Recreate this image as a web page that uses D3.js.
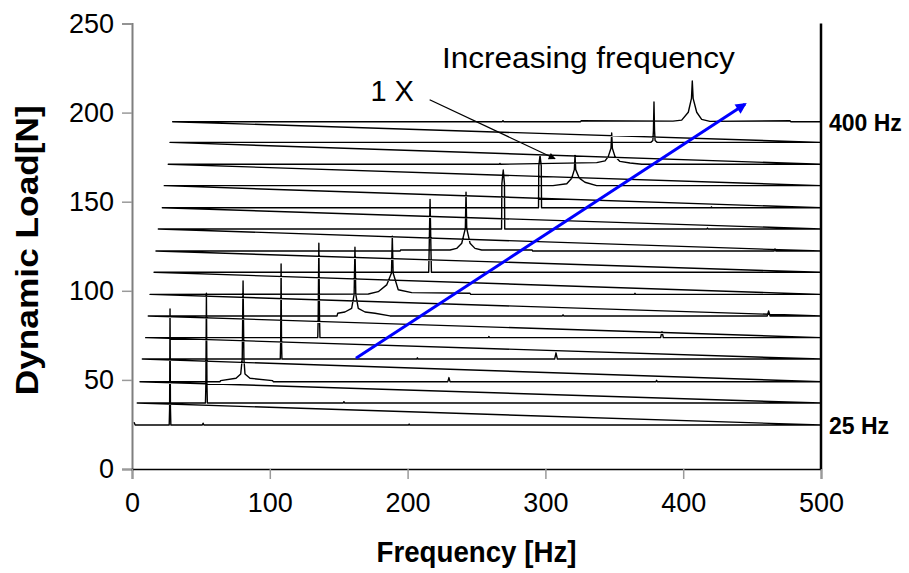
<!DOCTYPE html>
<html>
<head>
<meta charset="utf-8">
<script src="https://cdn.jsdelivr.net/npm/d3@7"></script>
<style>
  body { margin: 0; background: #fff; }
  text { font-family: "Liberation Sans", Arial, sans-serif; }
</style>
</head>
<body>
<svg id="chart" width="909" height="573"></svg>
<script>
// --- data ---
const xTicks = [0, 100, 200, 300, 400, 500];
const yTicks = [0, 50, 100, 150, 200, 250];
const traceNames = ["25 Hz", "", "", "", "", "", "", "", "", "", "", "", "", "", "400 Hz"];
// offset baseline of each spectrum [N]
const baselines = [24.7, 37.0, 49.0, 61.7, 73.7, 85.9, 98.0, 110.4, 122.3, 134.7, 146.6, 159.0, 171.0, 183.3, 194.9];
// vertices of each spectrum [Hz, N], from its first point up to 500 Hz
const spectra = [
  [[1.5,26.2],[2.3,24.7],[27.0,24.7],[27.3,34],[27.6,89.8],[27.9,34],[28.2,24.7],[51.0,24.7],[51.6,25.7],[52.2,24.7],[200.6,24.7],[201.1,25.2],[201.6,24.7]],
  [[3.8,37.0],[53.3,37.0],[53.6,47],[54.0,98.6],[54.4,47],[54.7,37.0],[153.3,37.0],[153.8,37.8],[154.3,37.0]],
  [[5.8,49.0],[63.9,49.0],[64.3,49.6],[75.5,50.9],[78.9,53.3],[80.0,62],[80.6,105.5],[81.2,62],[82.0,53.3],[85.6,50.9],[102.0,49.6],[102.5,49.0],[229.2,49.0],[230.0,51.3],[230.8,49.0],[380.2,49.0],[380.7,49.8],[381.2,49.0]],
  [[7.5,61.7],[107.6,61.7],[107.9,72],[108.2,115.0],[108.5,72],[108.8,61.7],[206.6,61.7],[207.1,62.4],[207.6,61.7],[306.7,61.7],[307.7,65.2],[308.7,61.7]],
  [[9.9,73.7],[134.8,73.7],[135.1,84],[135.6,126.7],[136.1,84],[136.4,73.7],[258.5,73.7],[259.0,74.3],[259.5,73.7],[383.6,73.7],[384.6,77.1],[385.6,73.7]],
  [[11.8,85.9],[148.8,85.9],[149.3,87.4],[154.5,88.1],[159.4,90.2],[161.2,98],[161.8,124.4],[162.4,98],[164.2,90.2],[169.1,88.1],[176.3,87.4],[187.2,85.9],[312.3,85.9],[312.8,86.5],[313.3,85.9],[461.0,85.9],[462.0,88.7],[463.0,85.9]],
  [[13.1,98.0],[171.5,98.2],[178.7,99.5],[184.8,103.3],[188.3,110],[188.9,130.7],[189.5,110],[193.2,100.6],[203.0,99.0],[245.3,98.6],[245.8,98.0],[364.5,98.0],[365.0,98.6],[365.5,98.0]],
  [[16.0,110.4],[215.3,110.4],[215.6,121],[216.3,151.3],[217.0,121],[217.3,110.4]],
  [[17.4,122.3],[194.5,122.3],[195.0,122.9],[230.8,122.9],[235.6,123.8],[239.3,126.7],[241.9,135],[242.4,155.4],[242.9,135],[245.3,126.7],[248.9,123.8],[253.8,122.9],[290.3,122.9],[290.8,122.3],[466.0,122.3],[466.6,123.5],[467.2,122.3]],
  [[19.1,134.7],[268.2,134.7],[268.4,160],[269.4,167.8],[270.3,160],[270.5,134.7],[417.2,134.7],[417.6,135.2],[418.0,134.7]],
  [[22.0,146.6],[295.0,146.6],[295.2,170],[296.1,176.0],[297.0,170],[297.2,146.6],[420.1,146.6],[420.5,147.1],[420.9,146.6]],
  [[23.4,159.0],[305.5,159.0],[315.5,160.1],[319.1,163.2],[321.0,168],[321.5,176.0],[322.0,168],[324.6,163.2],[328.7,160.9],[337.2,159.0]],
  [[26.3,171.0],[266.5,171.0],[267.0,171.5],[267.5,171.0],[337.2,171.9],[343.3,172.9],[345.6,175.3],[347.6,180],[348.1,188.6],[348.6,180],[350.5,175.3],[354.1,172.6],[361.4,171.7],[370.0,171.0]],
  [[27.6,183.3],[376.5,183.3],[378.0,184.3],[378.4,190],[378.8,206.0],[379.2,190],[379.6,184.3],[381.1,183.3]],
  [[29.5,194.9],[268.7,194.9],[269.2,195.5],[269.7,194.9],[325.5,194.9],[326.0,195.4],[392.6,195.2],[398.9,195.8],[403.7,200.2],[406.0,208],[406.6,217.7],[407.2,208],[409.8,200.2],[413.4,196.2],[419.4,195.1],[477.5,195.4],[478.0,194.9]]
];
// annotations [Hz, N]
const blueArrow = [[162.5, 62.1], [444.8, 204.7]];
const pointerArrow = [[216.0, 207.2], [307.0, 174.1]];
const titleNote = { text: "Increasing frequency", at: [224.9, 225.0] };
const orderNote = { text: "1 X", at: [173.0, 206.5] };

// --- layout ---
const margin = { top: 23.5, right: 88, bottom: 104, left: 132 };
const W = 909, H = 573;
const svg = d3.select("#chart");

const x = d3.scaleLinear().domain([0, 500]).range([margin.left, W - margin.right]);
const y = d3.scaleLinear().domain([0, 250]).range([H - margin.bottom, margin.top]);

const defs = svg.append("defs");
defs.append("marker").attr("id", "headBlue")
  .attr("viewBox", "0 0 10 10").attr("refX", 8).attr("refY", 5)
  .attr("markerWidth", 14).attr("markerHeight", 11).attr("markerUnits", "userSpaceOnUse")
  .attr("orient", "auto")
  .append("path").attr("d", "M0,0L10,5L0,10z").attr("fill", "#0000ff");
defs.append("marker").attr("id", "headBlack")
  .attr("viewBox", "0 0 10 10").attr("refX", 9).attr("refY", 5)
  .attr("markerWidth", 10).attr("markerHeight", 7).attr("markerUnits", "userSpaceOnUse")
  .attr("orient", "auto")
  .append("path").attr("d", "M0,0L10,5L0,10z").attr("fill", "#000");

// axes
const yAxis = d3.axisLeft(y).tickValues(yTicks).tickSize(10).tickPadding(8);
const gy = svg.append("g").attr("transform", `translate(${x(0)},0)`).call(yAxis);
gy.select(".domain").attr("stroke", "#7f7f7f").attr("stroke-width", 2);
gy.selectAll(".tick line").attr("stroke", "#9a9a9a").attr("stroke-width", 1.5);
gy.selectAll(".tick text").attr("font-size", 27).attr("fill", "#000");

const xAxis = d3.axisBottom(x).tickValues(xTicks).tickSize(10).tickPadding(14);
const gx = svg.append("g").attr("transform", `translate(0,${y(0)})`).call(xAxis);
gx.select(".domain").attr("stroke", "#000").attr("stroke-width", 1.5);
gx.selectAll(".tick line").attr("stroke", "#9a9a9a").attr("stroke-width", 1.5);
gx.selectAll(".tick text").attr("font-size", 27).attr("fill", "#000");

// right frame line
svg.append("line")
  .attr("x1", x(500)).attr("x2", x(500))
  .attr("y1", y(250)).attr("y2", y(0))
  .attr("stroke", "#000").attr("stroke-width", 2.5);

// waterfall: one continuous series, each spectrum running to 500 Hz then back to the next start
const series = [];
spectra.forEach((pts, i) => {
  pts.forEach(p => series.push(p));
  series.push([500, baselines[i]]);
});
const line = d3.line().x(d => x(d[0])).y(d => y(d[1]));
svg.append("path")
  .attr("d", line(series))
  .attr("fill", "none")
  .attr("stroke", "#000")
  .attr("stroke-width", 1.4)
  .attr("stroke-linejoin", "round");

// trace labels on the right
traceNames.forEach((name, i) => {
  if (!name) return;
  svg.append("text")
    .attr("x", x(500) + 8).attr("y", y(baselines[i]) + 9)
    .attr("font-size", 23).attr("font-weight", "bold")
    .text(name);
});

// annotations
svg.append("line")
  .attr("x1", x(pointerArrow[0][0])).attr("y1", y(pointerArrow[0][1]))
  .attr("x2", x(pointerArrow[1][0])).attr("y2", y(pointerArrow[1][1]))
  .attr("stroke", "#000").attr("stroke-width", 1.3)
  .attr("marker-end", "url(#headBlack)");

svg.append("line")
  .attr("x1", x(blueArrow[0][0])).attr("y1", y(blueArrow[0][1]))
  .attr("x2", x(blueArrow[1][0])).attr("y2", y(blueArrow[1][1]))
  .attr("stroke", "#0000ff").attr("stroke-width", 3)
  .attr("marker-end", "url(#headBlue)");

svg.append("text")
  .attr("x", x(titleNote.at[0])).attr("y", y(titleNote.at[1]))
  .attr("font-size", 30)
  .attr("textLength", 293).attr("lengthAdjust", "spacingAndGlyphs")
  .text(titleNote.text);

svg.append("text")
  .attr("x", x(orderNote.at[0])).attr("y", y(orderNote.at[1]))
  .attr("font-size", 29)
  .text(orderNote.text);

// axis titles
svg.append("text")
  .attr("x", (x(0) + x(500)) / 2).attr("y", 562)
  .attr("text-anchor", "middle")
  .attr("font-size", 30).attr("font-weight", "bold")
  .attr("textLength", 200).attr("lengthAdjust", "spacingAndGlyphs")
  .text("Frequency [Hz]");

svg.append("text")
  .attr("transform", `translate(38,${(y(0) + y(250)) / 2 + 4}) rotate(-90)`)
  .attr("text-anchor", "middle")
  .attr("font-size", 31).attr("font-weight", "bold")
  .attr("textLength", 290).attr("lengthAdjust", "spacingAndGlyphs")
  .text("Dynamic Load[N]");
</script>
</body>
</html>
